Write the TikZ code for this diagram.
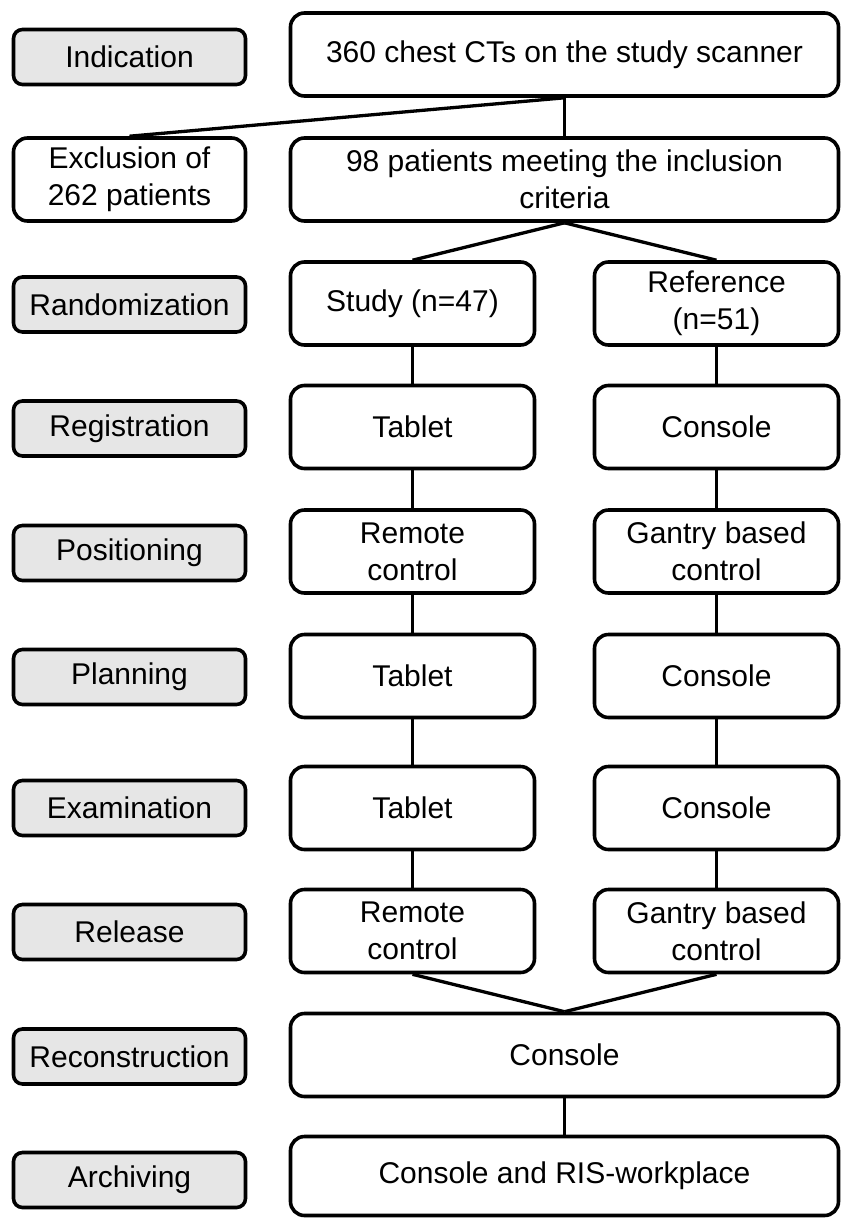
\documentclass[tikz,border=0pt]{standalone}
\usepackage{fontspec}
\setmainfont{Liberation Sans}
\usepackage{tikz}
\usetikzlibrary{positioning}
\definecolor{mylightgray}{RGB}{230,230,230}
\tikzstyle{stage}=[draw,fill=mylightgray,rounded corners=9pt,line width=3.6pt,minimum width=232pt,minimum height=55pt,inner sep=0pt,font=\fontsize{30}{37}\selectfont]
\tikzstyle{entry}=[draw,fill=white,rounded corners=14pt,line width=3.6pt,minimum width=244pt,minimum height=83pt,inner sep=0pt,align=center,font=\fontsize{30}{37}\selectfont]
\tikzstyle{wide}=[entry,minimum width=548pt]
\tikzstyle{link}=[line width=3.3pt]

\begin{document}
\begin{tikzpicture}[x=1pt,y=-1pt]
\useasboundingbox (0,0) rectangle (845,1219);

% stages on the left
\node [stage] (indication) at (129.5,57) {Indication};
\node [stage] (random) at (129.5,304.5) {Randomization};
\node [stage] (regist) at (129.5,428.5) {Registration};
\node [stage] (posit) at (129.5,553) {Positioning};
\node [stage] (plan) at (129.5,677) {Planning};
\node [stage] (exam) at (129.5,808) {Examination};
\node [stage] (release) at (129.5,932) {Release};
\node [stage] (recon) at (129.5,1056.5) {Reconstruction};
\node [stage] (archive) at (129.5,1180) {Archiving};

% flow
\node [wide] (cts) at (564.5,54.5) {360 chest CTs on the study scanner};
\node [entry,minimum width=232pt] (excl) at (129.5,179.5) {Exclusion of\\262 patients};
\node [wide] (incl) at (564.5,179.5) {98 patients meeting the inclusion\\criteria};

\node [entry] (study) at (412.5,303.5) {Study (n=47)};
\node [entry] (ref) at (716.5,303.5) {Reference\\(n=51)};
\node [entry] (studyreg) at (412.5,427) {Tablet};
\node [entry] (refreg) at (716.5,427) {Console};
\node [entry] (studypos) at (412.5,551.5) {Remote\\control};
\node [entry] (refpos) at (716.5,551.5) {Gantry based\\control};
\node [entry] (studyplan) at (412.5,676) {Tablet};
\node [entry] (refplan) at (716.5,676) {Console};
\node [entry] (studyexam) at (412.5,808) {Tablet};
\node [entry] (refexam) at (716.5,808) {Console};
\node [entry] (studyrel) at (412.5,931) {Remote\\control};
\node [entry] (refrel) at (716.5,931) {Gantry based\\control};

\node [wide] (console) at (564.5,1055) {Console};
\node [wide,minimum height=79pt] (ris) at (564.5,1176) {Console and RIS-workplace};

% connectors
\draw [link] (cts.south) -- (excl.north);
\draw [link] (cts.south) -- (incl.north);
\draw [link] (incl.south) -- (study.north);
\draw [link] (incl.south) -- (ref.north);
\draw [link] (study.south) -- (studyreg.north);
\draw [link] (studyreg.south) -- (studypos.north);
\draw [link] (studypos.south) -- (studyplan.north);
\draw [link] (studyplan.south) -- (studyexam.north);
\draw [link] (studyexam.south) -- (studyrel.north);
\draw [link] (ref.south) -- (refreg.north);
\draw [link] (refreg.south) -- (refpos.north);
\draw [link] (refpos.south) -- (refplan.north);
\draw [link] (refplan.south) -- (refexam.north);
\draw [link] (refexam.south) -- (refrel.north);
\draw [link] (studyrel.south) -- (console.north);
\draw [link] (refrel.south) -- (console.north);
\draw [link] (console.south) -- (ris.north);
\end{tikzpicture}
\end{document}
